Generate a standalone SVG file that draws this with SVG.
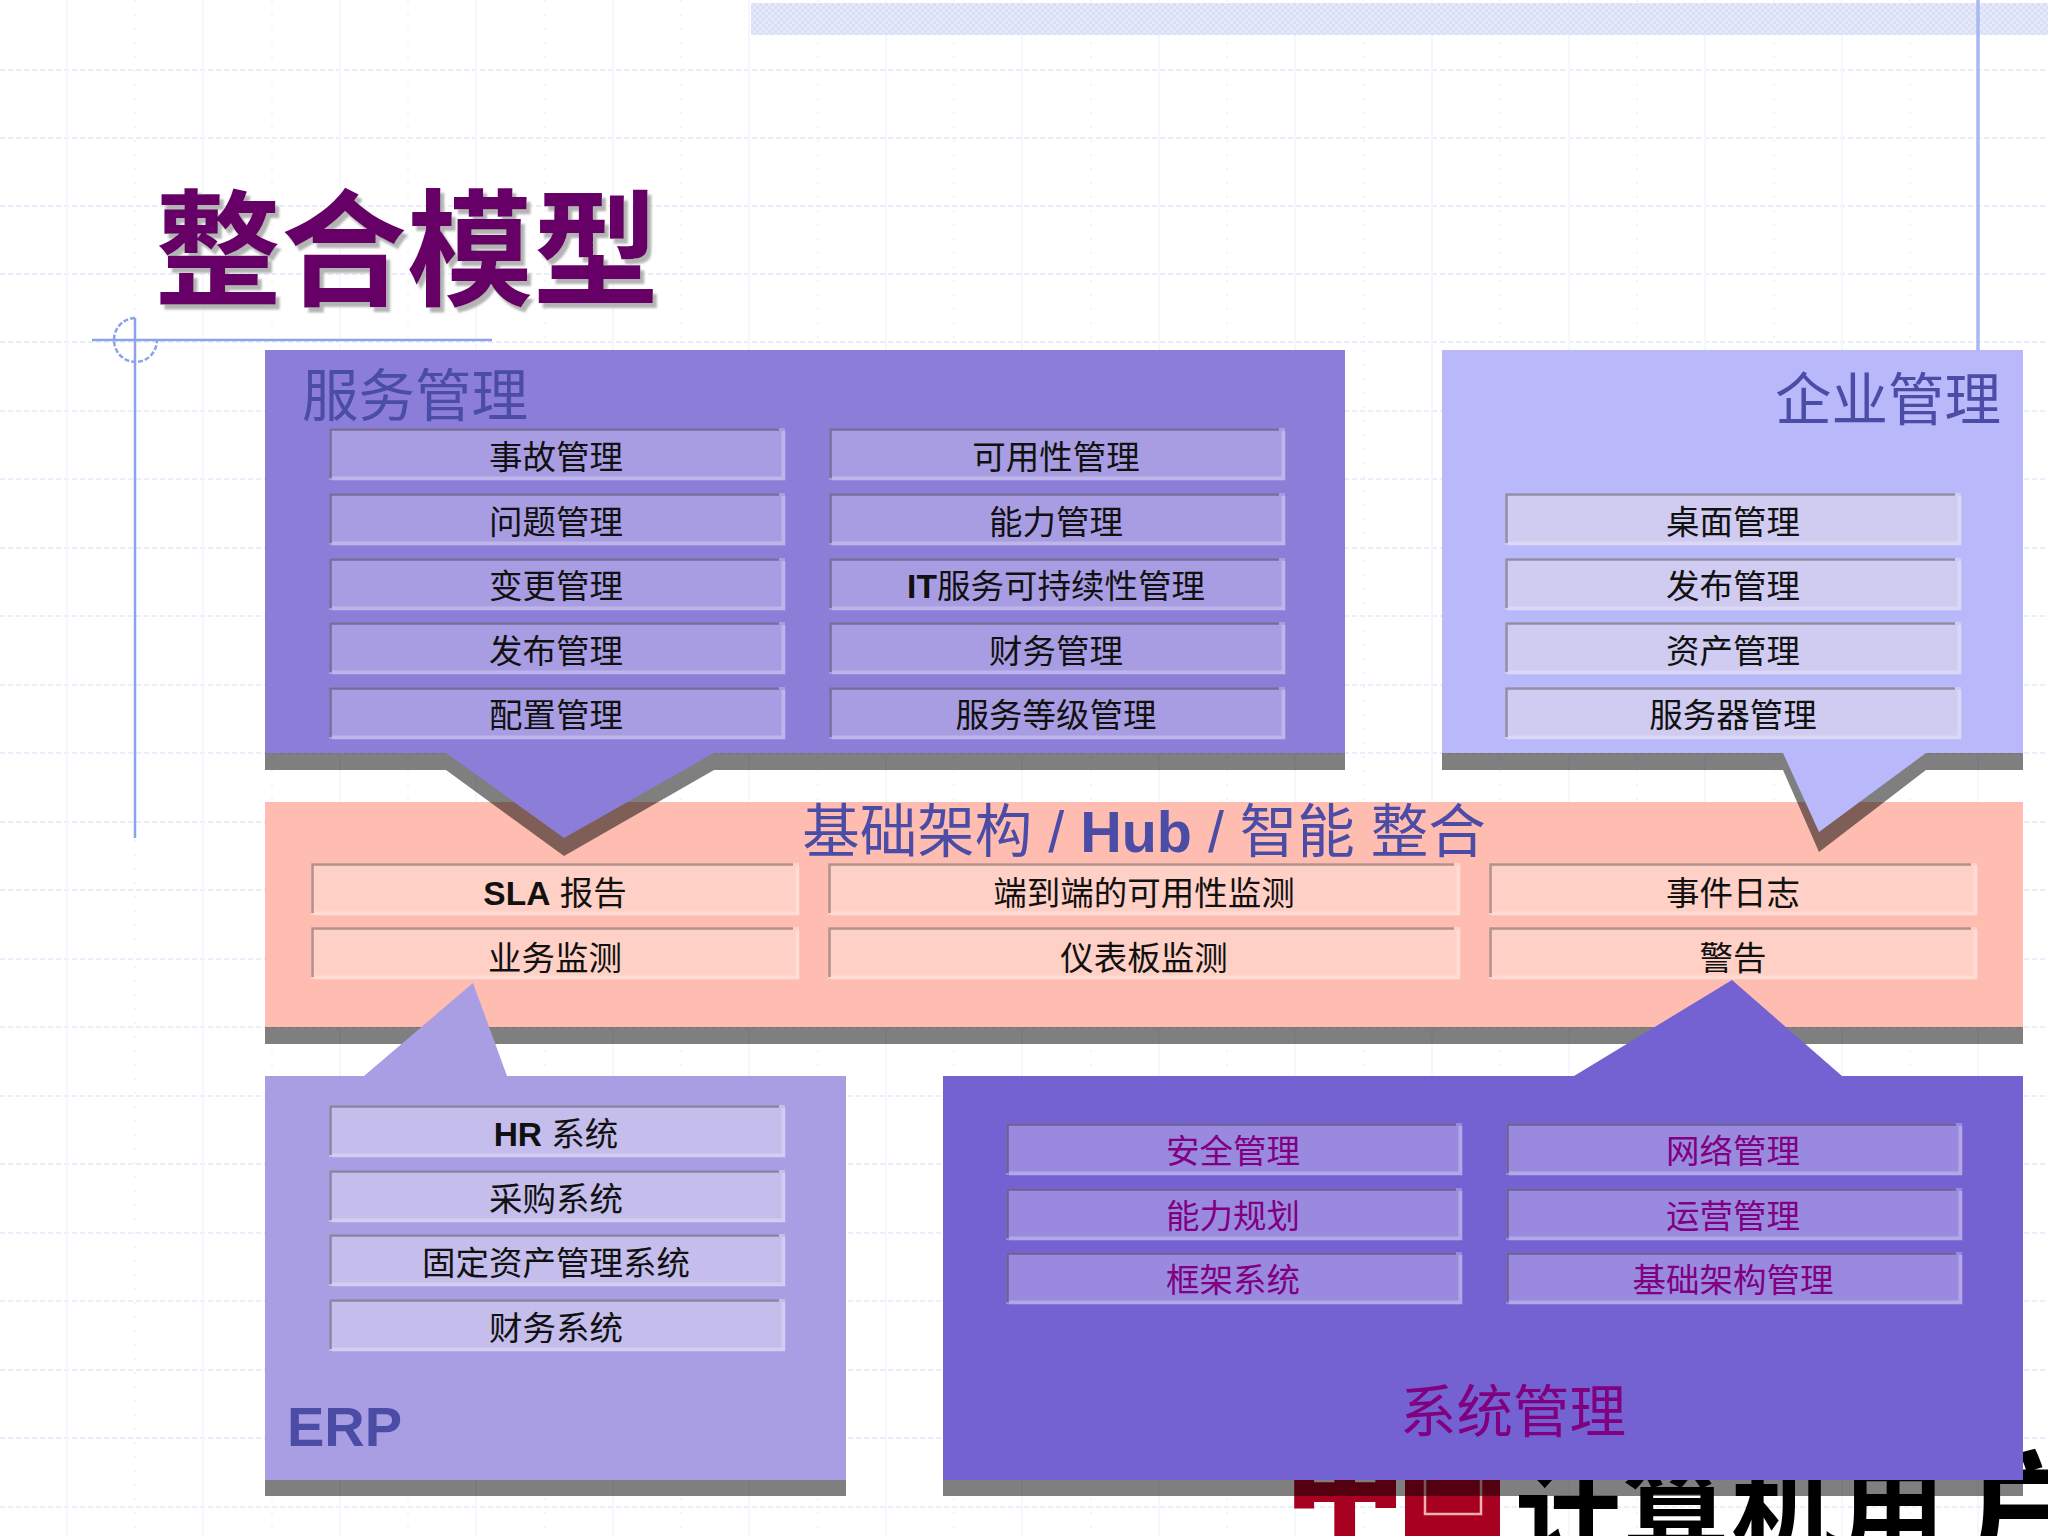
<svg xmlns="http://www.w3.org/2000/svg" xmlns:xlink="http://www.w3.org/1999/xlink" width="2048" height="1536" viewBox="0 0 2048 1536">
<style>
text{font-family:"Liberation Sans","Noto Sans CJK SC",sans-serif}
.lb{font-size:33.500px;fill:#111;text-anchor:middle}
.lp{font-size:33.500px;fill:#800080;text-anchor:middle}
.hd{font-size:56.500px;fill:#4a4ca6}
.hp{font-size:56.500px;fill:#800080}
.b{font-weight:700}
.sh{fill:#000;fill-opacity:.5}
.dk{fill:none;stroke:#000;stroke-opacity:.3;stroke-width:2.500}
.lt{fill:none;stroke:#fff;stroke-opacity:.25;stroke-width:4}
.gh{stroke:#eaedfb;stroke-width:2;stroke-dasharray:5 3;fill:none}
.gv{stroke:#f6f7fe;stroke-width:2;fill:none}
.gd{stroke:#f2f4fc;stroke-width:2;stroke-dasharray:2 12;fill:none}
.deco{stroke:#8ca2ea;stroke-width:2.500;fill:none}
</style>
<defs>
<pattern id="chk" width="6" height="6" patternUnits="userSpaceOnUse"><rect width="6" height="6" fill="#e6e9fa"/><rect width="3" height="3" fill="#d9dff7"/><rect x="3" y="3" width="3" height="3" fill="#d9dff7"/></pattern>
<filter id="ts" x="-5%" y="-5%" width="110%" height="115%"><feDropShadow dx="4" dy="5" stdDeviation="0.8" flood-color="#b4b4b4" flood-opacity="1"/></filter>
<g id="t456"><rect width="456" height="52"/><path class="lt" d="M3 50.500H454.500V3"/><path class="dk" d="M1.500 50V1.500H450"/></g>
<g id="t488"><rect width="488" height="52"/><path class="lt" d="M3 50.500H486.500V3"/><path class="dk" d="M1.500 50V1.500H482"/></g>
<g id="t632"><rect width="632" height="52"/><path class="lt" d="M3 50.500H630.500V3"/><path class="dk" d="M1.500 50V1.500H626"/></g>
</defs>
<rect width="2048" height="1536" fill="#fff"/>
<g id="background">
<path class="gh" d="M0 70H2048M0 138H2048M0 206H2048M0 274H2048M0 342H2048M0 411H2048M0 479H2048M0 548H2048M0 616H2048M0 685H2048M0 753H2048M0 822H2048M0 890H2048M0 959H2048M0 1027H2048M0 1096H2048M0 1164H2048M0 1233H2048M0 1301H2048M0 1370H2048M0 1438H2048M0 1507H2048"/>
<path class="gv" d="M67 0V1536M203 0V1536M340 0V1536M476 0V1536M613 0V1536M749 0V1536M886 0V1536M1022 0V1536M1159 0V1536M1295 0V1536M1432 0V1536M1569 0V1536M1705 0V1536M1842 0V1536M1978 0V1536"/>
<path class="gd" d="M135 0V1536M272 0V1536M408 0V1536M545 0V1536M681 0V1536M818 0V1536M954 0V1536M1091 0V1536M1227 0V1536M1364 0V1536M1500 0V1536M1637 0V1536M1774 0V1536M1910 0V1536"/>
<rect x="751" y="3" width="1297" height="32" fill="url(#chk)"/>
<path d="M1978 0V350" stroke="#a9b8f0" stroke-width="3.500" fill="none"/>
<path class="deco" d="M92 340H492M135 318V838"/>
<path class="deco" stroke-dasharray="5 2" d="M135 318A21.500 22 0 1 0 157 340"/>
</g>
<g id="logo">
<text x="1287" y="1525" font-weight="700" fill="#a80020" stroke="#a80020" stroke-width="6" style="font-size:116px">中</text>
<rect x="1405" y="1470" width="95" height="66" fill="#a80020"/>
<rect x="1425" y="1476" width="56" height="38" fill="none" stroke="#eeb0b0" stroke-width="2.500"/>
<text x="1515" y="1552" fill="#000" font-weight="700" style="font-size:106px;letter-spacing:2px">计算机用</text>
<text x="1965" y="1560" fill="#000" font-weight="700" style="font-size:130px">户</text>
</g>
<g id="hub">
<path class="sh" d="M265 803H2023V1044H265Z"/>
<rect x="265" y="802" width="1758" height="225" fill="#ffbcb0"/>
<text class="hd" x="1144" y="852" text-anchor="middle" style="font-size:57.500px">基础架构 / <tspan class="b">Hub</tspan> / 智能 整合</text>
<g id="hub-sla" fill="#ffd0c6"><use href="#t488" x="311" y="863"/><text class="lb" x="555" y="905"><tspan class="b">SLA</tspan> 报告</text></g>
<g id="hub-e2e" fill="#ffd0c6"><use href="#t632" x="828" y="863"/><text class="lb" x="1144" y="905">端到端的可用性监测</text></g>
<g id="hub-log" fill="#ffd0c6"><use href="#t488" x="1489" y="863"/><text class="lb" x="1733" y="905">事件日志</text></g>
<g id="hub-biz" fill="#ffd0c6"><use href="#t488" x="311" y="927"/><text class="lb" x="555" y="970">业务监测</text></g>
<g id="hub-dash" fill="#ffd0c6"><use href="#t632" x="828" y="927"/><text class="lb" x="1144" y="970">仪表板监测</text></g>
<g id="hub-alert" fill="#ffd0c6"><use href="#t488" x="1489" y="927"/><text class="lb" x="1733" y="970">警告</text></g>
</g>
<g id="service">
<path class="sh" d="M265 366H1345V770H714L564 856L446 770H265Z"/>
<path d="M265 350H1345V753H714L564 838L446 753H265Z" fill="#8b7dd8"/>
<text class="hd" x="302" y="416">服务管理</text>
<g id="svc-1" fill="#a89de2"><use href="#t456" x="329" y="428"/><text class="lb" x="556" y="469">事故管理</text></g>
<g id="svc-2" fill="#a89de2"><use href="#t456" x="329" y="493"/><text class="lb" x="556" y="534">问题管理</text></g>
<g id="svc-3" fill="#a89de2"><use href="#t456" x="329" y="558"/><text class="lb" x="556" y="598">变更管理</text></g>
<g id="svc-4" fill="#a89de2"><use href="#t456" x="329" y="622"/><text class="lb" x="556" y="663">发布管理</text></g>
<g id="svc-5" fill="#a89de2"><use href="#t456" x="329" y="687"/><text class="lb" x="556" y="727">配置管理</text></g>
<g id="svc-6" fill="#a89de2"><use href="#t456" x="829" y="428"/><text class="lb" x="1056" y="469">可用性管理</text></g>
<g id="svc-7" fill="#a89de2"><use href="#t456" x="829" y="493"/><text class="lb" x="1056" y="534">能力管理</text></g>
<g id="svc-8" fill="#a89de2"><use href="#t456" x="829" y="558"/><text class="lb" x="1056" y="598"><tspan class="b">IT</tspan>服务可持续性管理</text></g>
<g id="svc-9" fill="#a89de2"><use href="#t456" x="829" y="622"/><text class="lb" x="1056" y="663">财务管理</text></g>
<g id="svc-10" fill="#a89de2"><use href="#t456" x="829" y="687"/><text class="lb" x="1056" y="727">服务等级管理</text></g>
</g>
<g id="enterprise">
<path class="sh" d="M1442 366H2023V770H1926L1819 852L1783 770H1442Z"/>
<path d="M1442 350H2023V753H1926L1819 832L1783 753H1442Z" fill="#b8b8fb"/>
<text class="hd" x="1775" y="420">企业管理</text>
<g id="ent-1" fill="#d0cbf0"><use href="#t456" x="1505" y="493"/><text class="lb" x="1733" y="534">桌面管理</text></g>
<g id="ent-2" fill="#d0cbf0"><use href="#t456" x="1505" y="558"/><text class="lb" x="1733" y="598">发布管理</text></g>
<g id="ent-3" fill="#d0cbf0"><use href="#t456" x="1505" y="622"/><text class="lb" x="1733" y="663">资产管理</text></g>
<g id="ent-4" fill="#d0cbf0"><use href="#t456" x="1505" y="687"/><text class="lb" x="1733" y="727">服务器管理</text></g>
</g>
<g id="erp">
<path class="sh" d="M265 1090H846V1496H265Z"/>
<path d="M265 1076H364L473 983L507 1076H846V1480H265Z" fill="#a99ee3"/>
<text x="287" y="1446" class="b" fill="#4a4ca6" style="font-size:56px">ERP</text>
<g id="erp-1" fill="#c5bdec"><use href="#t456" x="329" y="1105"/><text class="lb" x="556" y="1146"><tspan class="b">HR</tspan> 系统</text></g>
<g id="erp-2" fill="#c5bdec"><use href="#t456" x="329" y="1170"/><text class="lb" x="556" y="1211">采购系统</text></g>
<g id="erp-3" fill="#c5bdec"><use href="#t456" x="329" y="1234"/><text class="lb" x="556" y="1275">固定资产管理系统</text></g>
<g id="erp-4" fill="#c5bdec"><use href="#t456" x="329" y="1299"/><text class="lb" x="556" y="1340">财务系统</text></g>
</g>
<g id="system">
<path class="sh" d="M943 1090H2023V1496H943Z"/>
<path d="M943 1076H1574L1732 980L1842 1076H2023V1480H943Z" fill="#7562d2"/>
<text class="hp" x="1400" y="1432">系统管理</text>
<g id="sys-1" fill="#9a8adf"><use href="#t456" x="1006" y="1123"/><text class="lp" x="1233" y="1163">安全管理</text></g>
<g id="sys-2" fill="#9a8adf"><use href="#t456" x="1006" y="1188"/><text class="lp" x="1233" y="1228">能力规划</text></g>
<g id="sys-3" fill="#9a8adf"><use href="#t456" x="1006" y="1252"/><text class="lp" x="1233" y="1292">框架系统</text></g>
<g id="sys-4" fill="#9a8adf"><use href="#t456" x="1506" y="1123"/><text class="lp" x="1733" y="1163">网络管理</text></g>
<g id="sys-5" fill="#9a8adf"><use href="#t456" x="1506" y="1188"/><text class="lp" x="1733" y="1228">运营管理</text></g>
<g id="sys-6" fill="#9a8adf"><use href="#t456" x="1506" y="1252"/><text class="lp" x="1733" y="1292">基础架构管理</text></g>
</g>
<g id="title"><text x="155" y="296" fill="#660066" font-weight="700" filter="url(#ts)" style="font-size:126px">整合模型</text></g>
<g id="connectors"></g>
</svg>
